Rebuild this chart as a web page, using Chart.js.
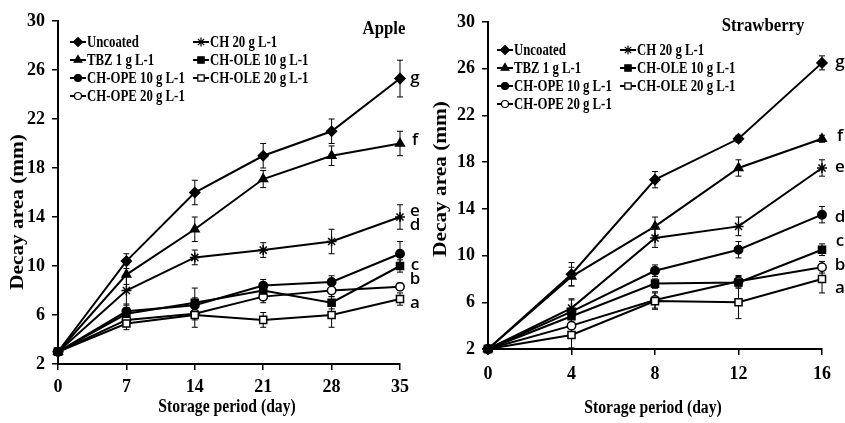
<!DOCTYPE html>
<html>
<head>
<meta charset="utf-8">
<script src="https://cdn.jsdelivr.net/npm/chart.js@4/dist/chart.umd.min.js"></script>
<style>
body { margin: 0; background: #fff; }
#wrap { position: relative; width: 845px; height: 423px; }
#apple { position: absolute; left: 0; top: 0; }
#strawberry { position: absolute; left: 423px; top: 0; }
</style>
</head>
<body>
<div id="wrap">
<canvas id="apple" width="422" height="423"></canvas>
<canvas id="strawberry" width="422" height="423"></canvas>
</div>
<script>
// Treatments (legend order, row by row)
var seriesNames = ['Uncoated', 'CH 20 g L-1', 'TBZ 1 g L-1', 'CH-OLE 10 g L-1', 'CH-OPE 10 g L-1', 'CH-OLE 20 g L-1', 'CH-OPE 20 g L-1'];
var pointStyles = ['rectRot', 'star', 'triangle', 'rect', 'circle', 'rect', 'circle'];
var hollow = [false, false, false, false, false, true, true];
var letters = ['g', 'f', 'e', 'd', 'c', 'b', 'a'];
var yTicks = [2, 6, 10, 14, 18, 22, 26, 30];

// Apple - decay area (mm)
var appleDays = [0, 7, 14, 21, 28, 35];
var appleUncoated = [3, 10.4, 16, 19, 21, 25.3];
var appleCH20 = [3, 8, 10.7, 11.3, 12, 14];
var appleTBZ = [3, 9.3, 13, 17.1, 19, 20];
var appleOLE10 = [3, 6.1, 7.0, 8.0, 7.0, 10];
var appleOPE10 = [3, 6.3, 6.8, 8.4, 8.7, 11];
var appleOLE20 = [3, 5.3, 6.0, 5.6, 6.0, 7.3];
var appleOPE20 = [3, 5.6, 6.1, 7.5, 8.0, 8.3];
// standard error bars
var appleErrUncoated = [0.2, 0.6, 1.0, 1.0, 1.0, 1.5];
var appleErrCH20 = [0.2, 1.2, 0.6, 0.6, 1.0, 1.0];
var appleErrTBZ = [0.2, 0.8, 1.0, 0.7, 0.8, 1.0];
var appleErrOLE10 = [0.2, 0.5, 1.2, 0.5, 0.5, 0.5];
var appleErrOPE10 = [0.2, 0.6, 0.6, 0.5, 0.5, 1.0];
var appleErrOLE20 = [0.2, 0.5, 1.0, 0.6, 1.0, 0.5];
var appleErrOPE20 = [0.2, 0.5, 0.5, 0.5, 0.5, 0.3];
var appleLetterY = [25.3, 20.3, 14.5, 13.3, 10.1, 8.9, 7.0];

// Strawberry - decay area (mm)
var strawDays = [0, 4, 8, 12, 16];
var strawUncoated = [2, 8.4, 16.5, 20, 26.5];
var strawCH20 = [2, 5.5, 11.5, 12.5, 17.5];
var strawTBZ = [2, 8.2, 12.5, 17.5, 20];
var strawOLE10 = [2, 4.8, 7.6, 7.7, 10.5];
var strawOPE10 = [2, 5.2, 8.7, 10.5, 13.5];
var strawOLE20 = [2, 3.2, 6.1, 6.0, 8.0];
var strawOPE20 = [2, 4.0, 6.2, 7.8, 9.0];
var strawErrUncoated = [0.1, 1.0, 0.7, 0.3, 0.6];
var strawErrCH20 = [0.1, 0.8, 0.8, 0.8, 0.7];
var strawErrTBZ = [0.1, 0.8, 0.8, 0.7, 0.3];
var strawErrOLE10 = [0.1, 0.6, 0.4, 0.5, 0.5];
var strawErrOPE10 = [0.1, 1.0, 0.5, 0.7, 0.7];
var strawErrOLE20 = [0.1, 1.1, 0.7, 1.4, 1.2];
var strawErrOPE20 = [0.1, 0.7, 0.7, 0.5, 0.5];
var strawLetterY = [26.6, 20.2, 17.6, 13.3, 11.2, 9.2, 7.2];

var serif = "'Liberation Serif', 'Times New Roman', serif";

// text drawn narrower than the font (the figure is a bit condensed)
function squeezedText(ctx, text, x, y, sx, rot) {
    ctx.save();
    ctx.translate(x, y);
    if (rot) ctx.rotate(rot);
    ctx.scale(sx, 1);
    ctx.fillText(text, 0, 0);
    ctx.restore();
}

// error bars, titles, legend and letters
var decor = {
    id: 'decor',
    beforeDatasetsDraw: function (chart, args, o) {
        var ctx = chart.ctx, ys = chart.scales.y;
        ctx.save();
        ctx.strokeStyle = '#000';
        ctx.lineWidth = 1;
        o.errors.forEach(function (errs, i) {
            var meta = chart.getDatasetMeta(i);
            meta.data.forEach(function (pt, j) {
                var v = chart.data.datasets[i].data[j].y;
                var top = ys.getPixelForValue(v + errs[j]);
                var bot = ys.getPixelForValue(v - errs[j]);
                ctx.beginPath();
                ctx.moveTo(pt.x, top); ctx.lineTo(pt.x, bot);
                ctx.moveTo(pt.x - 3, top); ctx.lineTo(pt.x + 3, top);
                ctx.moveTo(pt.x - 3, bot); ctx.lineTo(pt.x + 3, bot);
                ctx.stroke();
            });
        });
        ctx.restore();
    },
    afterDraw: function (chart, args, o) {
        var ctx = chart.ctx, xs = chart.scales.x, ys = chart.scales.y;
        ctx.save();
        ctx.fillStyle = '#000';
        ctx.textBaseline = 'middle';
        ctx.textAlign = 'center';

        // fruit name
        ctx.font = 'bold 18px ' + serif;
        squeezedText(ctx, o.title, o.titleX, o.titleY, 0.93);

        // axis titles
        ctx.font = 'bold 18px ' + serif;
        squeezedText(ctx, 'Storage period (day)', (xs.left + xs.right) / 2 - 2, o.xTitleY, 0.87);
        ctx.font = 'bold 19px ' + serif;
        ctx.save();
        ctx.translate(o.yTitleX, o.yTitleY);
        ctx.rotate(-Math.PI / 2);
        ctx.scale(1.12, 1);
        ctx.fillText('Decay area (mm)', 0, 0);
        ctx.restore();

        // legend
        ctx.font = 'bold 16px ' + serif;
        ctx.textAlign = 'left';
        seriesNames.forEach(function (name, i) {
            var x0 = o.legendX[i % 2];
            var y = o.legendTop + Math.floor(i / 2) * 18;
            ctx.strokeStyle = '#000';
            ctx.lineWidth = 2;
            ctx.beginPath();
            ctx.moveTo(x0, y); ctx.lineTo(x0 + 16, y);
            ctx.stroke();
            ctx.fillStyle = hollow[i] ? '#fff' : '#000';
            ctx.lineWidth = 1.2;
            Chart.helpers.drawPoint(ctx, { pointStyle: pointStyles[i], radius: pointStyles[i] === 'circle' ? 3.5 : 4.5, rotation: 0, borderWidth: 1.2 }, x0 + 8, y);
            ctx.fillStyle = '#000';
            squeezedText(ctx, name, x0 + 17, y + 1, 0.8);
        });

        // significance letters
        ctx.font = '600 17px "Open Sans", sans-serif';
        ctx.textAlign = 'center';
        var lastX = xs.getPixelForValue(xs.max) + o.letterDx;
        letters.forEach(function (l, k) {
            ctx.fillText(l, lastX, ys.getPixelForValue(o.letterY[k]));
        });
        ctx.restore();
    }
};

function makeDatasets(days, values) {
    return values.map(function (vals, i) {
        return {
            label: seriesNames[i],
            data: vals.map(function (v, j) { return { x: days[j], y: v }; }),
            borderColor: '#000',
            backgroundColor: hollow[i] ? '#fff' : '#000',
            borderWidth: 2,
            pointStyle: pointStyles[i],
            pointRadius: pointStyles[i] === 'circle' ? 4.2 : 5,
            pointBorderWidth: 1.5,
            pointBackgroundColor: hollow[i] ? '#fff' : '#000',
            pointBorderColor: '#000',
            tension: 0,
            clip: false
        };
    });
}

function buildChart(id, days, values, errors, letterY, o) {
    new Chart(document.getElementById(id), {
        type: 'line',
        data: { datasets: makeDatasets(days, values) },
        options: {
            responsive: false,
            animation: false,
            layout: { padding: { top: o.padTop, right: o.padRight, left: 0, bottom: 0 } },
            plugins: {
                legend: { display: false },
                tooltip: { enabled: false },
                decor: {
                    errors: errors,
                    letterY: letterY,
                    letterDx: o.letterDx,
                    title: o.title, titleX: o.titleX, titleY: o.titleY,
                    xTitleY: o.xTitleY,
                    yTitleX: o.yTitleX, yTitleY: o.yTitleY,
                    legendX: o.legendX, legendTop: o.legendTop
                }
            },
            scales: {
                x: {
                    type: 'linear',
                    min: days[0],
                    max: days[days.length - 1],
                    afterBuildTicks: function (s) { s.ticks = days.map(function (v) { return { value: v }; }); },
                    afterFit: function (s) { s.height = o.xHeight; },
                    ticks: { padding: o.xTickPad, color: '#000', font: { family: serif, size: 18, weight: 'bold' } },
                    grid: { drawOnChartArea: false, tickLength: 6, color: '#000', lineWidth: 1.5 },
                    border: { color: '#000', width: 2 }
                },
                y: {
                    min: 2,
                    max: 30,
                    afterBuildTicks: function (s) { s.ticks = yTicks.map(function (v) { return { value: v }; }); },
                    afterFit: function (s) { s.width = o.yWidth; },
                    ticks: { padding: 7, color: '#000', font: { family: serif, size: 18, weight: 'bold' } },
                    grid: { drawOnChartArea: false, tickLength: 6, color: '#000', lineWidth: 1.5 },
                    border: { color: '#000', width: 2 }
                }
            }
        },
        plugins: [decor]
    });
}

buildChart('apple', appleDays,
    [appleUncoated, appleCH20, appleTBZ, appleOLE10, appleOPE10, appleOLE20, appleOPE20],
    [appleErrUncoated, appleErrCH20, appleErrTBZ, appleErrOLE10, appleErrOPE10, appleErrOLE20, appleErrOPE20],
    appleLetterY,
    { padTop: 21, padRight: 22, xHeight: 59, yWidth: 58, xTickPad: 7, xTitleY: 407,
      letterDx: 15, title: 'Apple', titleX: 384, titleY: 29, yTitleX: 18, yTitleY: 212,
      legendX: [70, 193], legendTop: 42 });

buildChart('strawberry', strawDays,
    [strawUncoated, strawCH20, strawTBZ, strawOLE10, strawOPE10, strawOLE20, strawOPE20],
    [strawErrUncoated, strawErrCH20, strawErrTBZ, strawErrOLE10, strawErrOPE10, strawErrOLE20, strawErrOPE20],
    strawLetterY,
    { padTop: 22, padRight: 23, xHeight: 74, yWidth: 65, xTickPad: 9, xTitleY: 408,
      letterDx: 18, title: 'Strawberry', titleX: 340, titleY: 26, yTitleX: 18, yTitleY: 179,
      legendX: [74, 197], legendTop: 50 });
</script>
</body>
</html>
